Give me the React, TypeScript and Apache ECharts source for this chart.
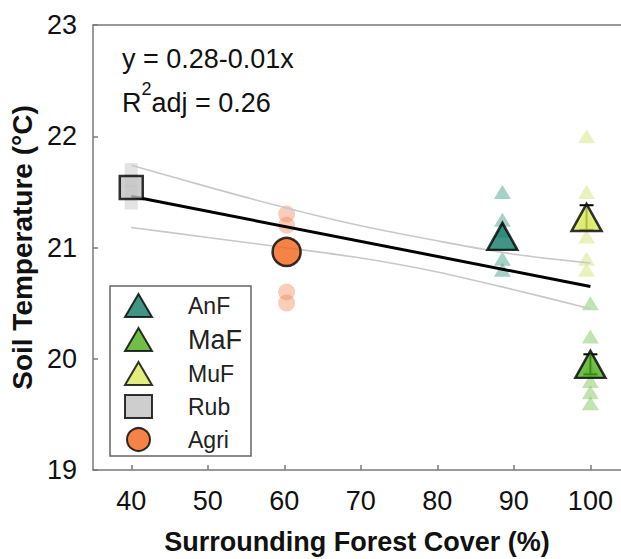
import React, { useEffect, useRef } from "react";
import * as echarts from "echarts";

// ---- data ----
const groupNames = ["AnF", "MaF", "MuF", "Rub", "Agri"];
const groupX = [88.5, 100, 99.5, 40, 60.3];
const groupMeans = [21.1, 19.95, 21.27, 21.54, 20.96];
const anfPoints = [21.5, 21.25, 21.15, 20.9, 20.8];
const mafPoints = [20.5, 20.2, 19.9, 19.8, 19.7, 19.6];
const mufPoints = [22.0, 21.5, 21.25, 21.1, 20.9, 20.8];
const rubPoints = [21.7, 21.6, 21.5, 21.4];
const agriPoints = [21.3, 21.2, 20.6, 20.5];
// error bars (mean ± se) for the groups where they are visible
const errGroups = ["MuF", "MaF"];
const errLow = [21.16, 19.86];
const errHigh = [21.38, 20.04];

const fitX = [40, 100];
const fitY = [21.46, 20.65];
const bandX = [40, 50, 60, 70, 80, 90, 100];
const bandUpper = [21.74, 21.545, 21.36, 21.195, 21.06, 20.94, 20.86];
const bandLower = [21.18, 21.09, 21.0, 20.905, 20.78, 20.62, 20.45];

const xTicks = [40, 50, 60, 70, 80, 90, 100];
const yMin = 19;
const yMax = 23;

const FONT = "'Liberation Sans', Arial, sans-serif";

const meanColor: Record<string, string> = {
  AnF: "#127a66",
  MaF: "#4cae1a",
  MuF: "#d9e85c",
  Rub: "#c2c2c2",
  Agri: "#f26419",
};
const lightColor: Record<string, string> = {
  AnF: "rgba(32,140,115,0.5)",
  MaF: "rgba(100,185,60,0.5)",
  MuF: "rgba(205,225,110,0.55)",
  Rub: "rgba(185,185,185,0.5)",
  Agri: "rgba(240,130,80,0.5)",
};
const shape: Record<string, string> = {
  AnF: "triangle",
  MaF: "triangle",
  MuF: "triangle",
  Rub: "rect",
  Agri: "circle",
};
const bigSize: Record<string, number[]> = {
  AnF: [30, 27],
  MaF: [30, 27],
  MuF: [30, 27],
  Rub: [23, 23],
  Agri: [28, 28],
};
const smallSize: Record<string, number[]> = {
  AnF: [17, 14],
  MaF: [17, 14],
  MuF: [17, 14],
  Rub: [13, 13],
  Agri: [17, 17],
};
const pointsByGroup: Record<string, number[]> = {
  AnF: anfPoints,
  MaF: mafPoints,
  MuF: mufPoints,
  Rub: rubPoints,
  Agri: agriPoints,
};

export default function App() {
  const ref = useRef<HTMLDivElement>(null);
  useEffect(() => {
    if (!ref.current) return;
    const chart = echarts.init(ref.current, null, { renderer: "svg" });

    const lightSeries = groupNames.map((g, i) => ({
      type: "scatter",
      name: g + " sites",
      z: 1,
      symbol: shape[g],
      symbolSize: smallSize[g],
      itemStyle: { color: lightColor[g], borderWidth: 0 },
      data: pointsByGroup[g].map((v) => [groupX[i], v]),
      silent: true,
    }));

    const meanSeries = groupNames.map((g, i) => ({
      type: "scatter",
      name: g,
      z: 5,
      symbol: shape[g],
      symbolSize: bigSize[g],
      itemStyle: { color: meanColor[g], borderColor: "#000", borderWidth: 2.5 },
      data: [[groupX[i], groupMeans[i]]],
    }));

    const errData = errGroups.map((g, k) => {
      const i = groupNames.indexOf(g);
      return [groupX[i], errLow[k], errHigh[k]];
    });

    const option: any = {
      animation: false,
      textStyle: { fontFamily: FONT },
      grid: { left: 93, right: 0, top: 25, bottom: 89, containLabel: false, outerBoundsMode: "none" },
      xAxis: [
        {
          type: "value",
          min: 35,
          max: 104,
          name: "Surrounding Forest Cover (%)",
          nameLocation: "middle",
          nameGap: 58,
          nameTextStyle: { fontSize: 27, fontWeight: "bold", color: "#111", fontFamily: FONT },
          axisLine: { show: true, lineStyle: { color: "#7a7a7a", width: 1.5 } },
          axisTick: { show: true, inside: true, length: 5, customValues: xTicks, lineStyle: { color: "#7a7a7a", width: 1.5 } },
          axisLabel: { customValues: xTicks, fontSize: 27, color: "#111", margin: 17, fontFamily: FONT },
          splitLine: { show: false },
        },
        {
          type: "value",
          position: "top",
          min: 35,
          max: 104,
          axisLine: { show: true, lineStyle: { color: "#7a7a7a", width: 1.5 } },
          axisTick: { show: false },
          axisLabel: { show: false },
          splitLine: { show: false },
        },
      ],
      yAxis: {
        type: "value",
        min: yMin,
        max: yMax,
        interval: 1,
        name: "Soil Temperature (°C)",
        nameLocation: "middle",
        nameGap: 57,
        nameTextStyle: { fontSize: 28, fontWeight: "bold", color: "#111", fontFamily: FONT },
        axisLine: { show: true, lineStyle: { color: "#7a7a7a", width: 1.5 } },
        axisTick: { show: true, inside: true, length: 5, lineStyle: { color: "#7a7a7a", width: 1.5 } },
        axisLabel: { fontSize: 27, color: "#111", margin: 16, fontFamily: FONT },
        splitLine: { show: false },
      },
      legend: {
        data: groupNames,
        orient: "vertical",
        left: 110,
        top: 286,
        itemWidth: 27,
        itemHeight: 23,
        itemGap: 8,
        padding: [7, 9, 4, 14],
        borderColor: "#666",
        borderWidth: 1.5,
        selectedMode: false,
        formatter: (name: string) => (name === "MaF" ? "{b|" + name + "}" : "{n|" + name + "}"),
        textStyle: {
          color: "#222",
          fontFamily: FONT,
          lineHeight: 23,
          padding: [0, 0, 0, 31],
          rich: {
            n: { fontSize: 23, lineHeight: 23, fontFamily: FONT, color: "#222" },
            b: { fontSize: 27, lineHeight: 23, fontFamily: FONT, color: "#222" },
          },
        },
      },
      graphic: [
        {
          type: "text",
          left: 122,
          top: 45,
          style: { text: "y = 0.28-0.01x", fontSize: 27, fontFamily: FONT, fill: "#111" },
        },
        {
          type: "text",
          left: 122,
          top: 80,
          style: {
            text: "{r|R}{s|2}{r|adj = 0.26}",
            fontFamily: FONT,
            fill: "#111",
            rich: {
              r: { fontSize: 27, lineHeight: 46, fontFamily: FONT, color: "#111" },
              s: { fontSize: 18, lineHeight: 18, verticalAlign: "top", fontFamily: FONT, color: "#111" },
            },
          },
        },
      ],
      series: [
        ...lightSeries,
        {
          type: "line",
          name: "upper",
          z: 2,
          smooth: 0.3,
          symbol: "none",
          silent: true,
          lineStyle: { color: "#c8c8c8", width: 1.6 },
          data: bandX.map((x, i) => [x, bandUpper[i]]),
        },
        {
          type: "line",
          name: "lower",
          z: 2,
          smooth: 0.3,
          symbol: "none",
          silent: true,
          lineStyle: { color: "#c8c8c8", width: 1.6 },
          data: bandX.map((x, i) => [x, bandLower[i]]),
        },
        {
          type: "line",
          name: "fit",
          z: 3,
          symbol: "none",
          silent: true,
          lineStyle: { color: "#000", width: 3 },
          data: fitX.map((x, i) => [x, fitY[i]]),
        },
        {
          type: "custom",
          name: "se",
          z: 4,
          silent: true,
          encode: { x: 0, y: [1, 2] },
          data: errData,
          renderItem: (params: any, api: any) => {
            const x = api.value(0);
            const p1 = api.coord([x, api.value(1)]);
            const p2 = api.coord([x, api.value(2)]);
            const w = 7;
            const st = { stroke: "#000", lineWidth: 2 };
            return {
              type: "group",
              children: [
                { type: "line", shape: { x1: p1[0], y1: p1[1], x2: p2[0], y2: p2[1] }, style: st },
                { type: "line", shape: { x1: p1[0] - w, y1: p1[1], x2: p1[0] + w, y2: p1[1] }, style: st },
                { type: "line", shape: { x1: p2[0] - w, y1: p2[1], x2: p2[0] + w, y2: p2[1] }, style: st },
              ],
            };
          },
        },
        ...meanSeries,
      ],
    };
    chart.setOption(option);
    return () => chart.dispose();
  }, []);
  return (
    <div
      ref={ref}
      style={{ position: "fixed", left: 0, top: 0, width: 621, height: 559, background: "#fff" }}
    />
  );
}
